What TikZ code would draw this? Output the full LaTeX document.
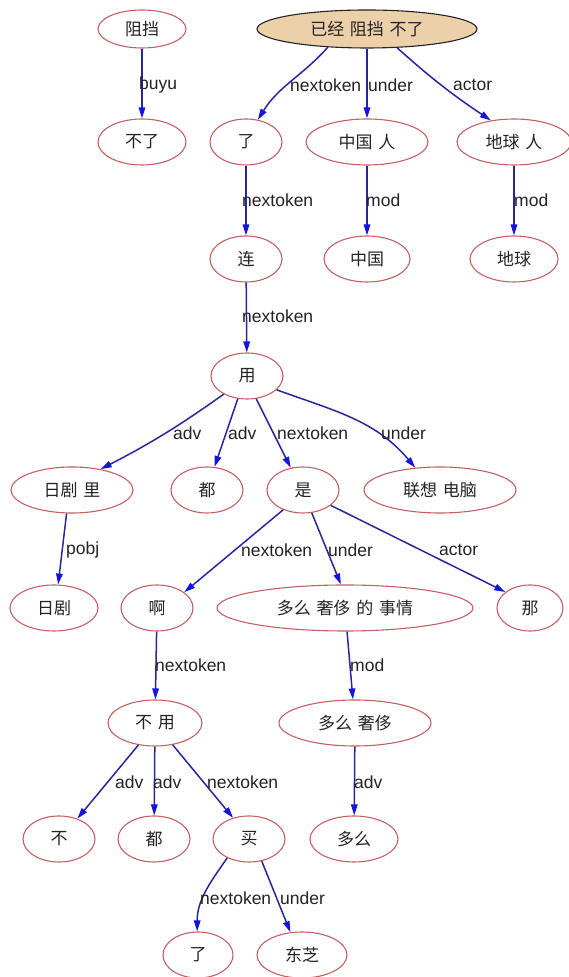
\documentclass[tikz,border=0pt]{standalone}
\usepackage{fontspec}
\setmainfont{Liberation Sans}
\newfontfamily\cjk[WordSpace=1.5]{Noto Sans CJK SC}
\usetikzlibrary{shapes.geometric,arrows.meta}
\definecolor{nodered}{RGB}{196,96,96}
\definecolor{edgeblue}{RGB}{38,38,160}
\definecolor{tipblue}{RGB}{20,20,225}
\definecolor{textgray}{RGB}{35,35,35}
\definecolor{rootfill}{RGB}{236,208,170}
\begin{document}
\begin{tikzpicture}[x=1pt,y=1pt,
  nd/.style={ellipse, draw=nodered, line width=1.1pt, inner sep=0pt,
    minimum height=46pt, text=textgray, font=\cjk\fontsize{17}{17}\selectfont},
  topnd/.style={nd, minimum height=38pt},
  rootnd/.style={topnd, draw=textgray, fill=rootfill},
  ed/.style={draw=edgeblue, line width=1.5pt,
    -{Triangle[length=11pt,width=6.5pt,color=tipblue]}},
  lb/.style={anchor=west, inner sep=0pt, text=textgray,
    font=\fontsize{17.5}{18}\selectfont}]
\useasboundingbox (0,0) rectangle (569,977);
% row 1
\node[topnd, minimum width=88pt] (zudang) at (142,948) {阻挡};
\node[rootnd, minimum width=220pt] (root) at (367,948) {已经 阻挡 不了};
% row 2
\node[nd, minimum width=88pt] (buliao) at (142,835) {不了};
\node[nd, minimum width=72pt] (leA) at (246,835) {了};
\node[nd, minimum width=122pt] (zgr) at (367,835) {中国 人};
\node[nd, minimum width=114pt] (dqr) at (514,835) {地球 人};
% row 3
\node[nd, minimum width=72pt] (lian) at (246,718) {连};
\node[nd, minimum width=86pt] (zg) at (367,718) {中国};
\node[nd, minimum width=88pt] (dq) at (514,718) {地球};
% row 4
\node[nd, minimum width=72pt] (yong) at (247,601) {用};
% row 5
\node[nd, minimum width=122pt] (rjl) at (72,487) {日剧 里};
\node[nd, minimum width=72pt] (douA) at (207,487) {都};
\node[nd, minimum width=72pt] (shi) at (303,487) {是};
\node[nd, minimum width=152pt] (lxdn) at (440,487) {联想 电脑};
% row 6
\node[nd, minimum width=88pt] (rj) at (54,369) {日剧};
\node[nd, minimum width=72pt] (a) at (157,369) {啊};
\node[nd, minimum width=256pt] (dmsc) at (345,369) {多么 奢侈 的 事情};
\node[nd, minimum width=66pt] (na) at (530,369) {那};
% row 7
\node[nd, minimum width=94pt] (buyong) at (155,254) {不 用};
\node[nd, minimum width=152pt] (dms) at (355,254) {多么 奢侈};
% row 8
\node[nd, minimum width=72pt] (bu) at (59,138) {不};
\node[nd, minimum width=72pt] (douB) at (154,138) {都};
\node[nd, minimum width=72pt] (mai) at (249,138) {买};
\node[nd, minimum width=88pt] (duome) at (354,138) {多么};
% row 9
\node[nd, minimum width=70pt] (leB) at (198,22) {了};
\node[nd, minimum width=90pt] (dz) at (302,22) {东芝};
% edges
\draw[ed] (zudang) -- (buliao);
\draw[ed] (root.-155) to[out=-132,in=58] (leA.62);
\draw[ed] (root) -- (zgr);
\draw[ed] (root.-32) to[bend right=4] (dqr.137);
\draw[ed] (leA) -- (lian);
\draw[ed] (zgr) -- (zg);
\draw[ed] (dqr) -- (dq);
\draw[ed] (lian) -- (yong);
\draw[ed] (yong.-142) to[bend left=4] (rjl.36);
\draw[ed] (yong.-112) -- (douA.72);
\draw[ed] (yong.-68) -- (shi.119);
\draw[ed] (yong.-25) to[out=-20,in=130] (lxdn.138);
\draw[ed] (rjl.-103) -- (rj.80);
\draw[ed] (shi.-135) -- (a.30);
\draw[ed] (shi.-69) -- (dmsc.100);
\draw[ed] (shi.-29) -- (na.147);
\draw[ed] (a) -- (buyong);
\draw[ed] (dmsc) -- (dms);
\draw[ed] (buyong.-127) -- (bu.48);
\draw[ed] (buyong) -- (douB);
\draw[ed] (buyong.-51) -- (mai.127);
\draw[ed] (dms) -- (duome);
\draw[ed] (mai.-139) to[out=-125,in=90] (leB.92);
\draw[ed] (mai.-60) -- (dz.117);
% labels
\node[lb] (l1) at (139,892) {buyu};
\node[lb] (l2) at (290,892) {nextoken};
\node[lb] (l3) at (368,892) {under};
\node[lb] (l4) at (453,892) {actor};
\node[lb] (l5) at (242,777) {nextoken};
\node[lb] (l6) at (366,777) {mod};
\node[lb] (l7) at (514,777) {mod};
\node[lb] (l8) at (242,661) {nextoken};
\node[lb] (l9) at (173,544) {adv};
\node[lb] (l10) at (228,544) {adv};
\node[lb] (l11) at (277,544) {nextoken};
\node[lb] (l12) at (381,544) {under};
\node[lb] (l13) at (66,427) {pobj};
\node[lb] (l14) at (241,427) {nextoken};
\node[lb] (l15) at (328,427) {under};
\node[lb] (l16) at (439,427) {actor};
\node[lb] (l17) at (155,312) {nextoken};
\node[lb] (l18) at (350,312) {mod};
\node[lb] (l19) at (115,195) {adv};
\node[lb] (l20) at (153,195) {adv};
\node[lb] (l21) at (207,195) {nextoken};
\node[lb] (l22) at (354,195) {adv};
\node[lb] (l23) at (200,79) {nextoken};
\node[lb] (l24) at (280,79) {under};
\end{tikzpicture}
\end{document}
